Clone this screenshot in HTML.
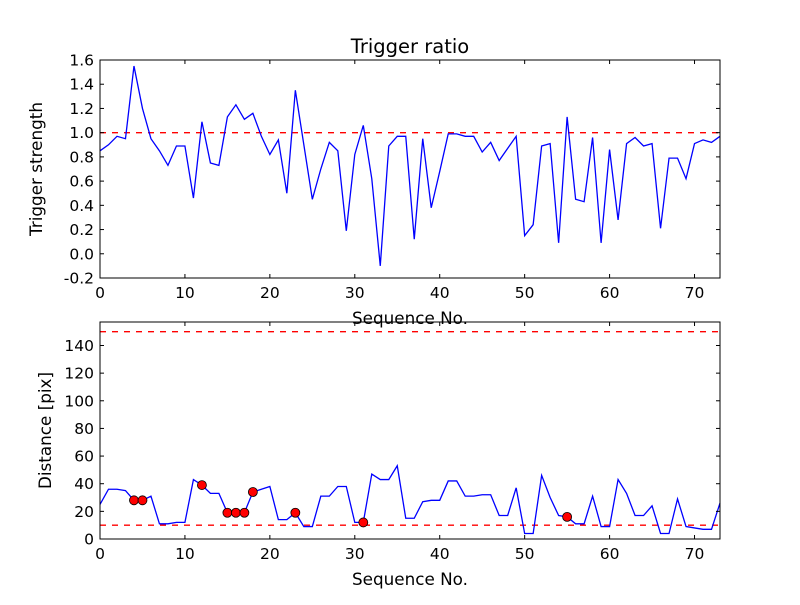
<!DOCTYPE html>
<html><head><meta charset="utf-8"><style>
body{margin:0;background:#fff;}
svg text{font-family:"DejaVu Sans","Liberation Sans",sans-serif;}
</style></head><body>
<svg id="c" width="800" height="600" xmlns="http://www.w3.org/2000/svg"></svg>
<script>
const topValues=[0.85,0.9,0.97,0.95,1.55,1.2,0.95,0.85,0.73,0.89,0.89,0.46,1.09,0.75,0.73,1.13,1.23,1.11,1.16,0.97,0.82,0.94,0.5,1.35,0.9,0.45,0.7,0.92,0.85,0.19,0.82,1.06,0.62,-0.1,0.89,0.97,0.97,0.12,0.95,0.38,0.68,0.99,0.99,0.97,0.97,0.84,0.92,0.77,0.87,0.97,0.15,0.24,0.89,0.91,0.09,1.13,0.45,0.43,0.96,0.09,0.86,0.28,0.91,0.96,0.89,0.91,0.21,0.79,0.79,0.62,0.91,0.94,0.92,0.97];
const distValues=[25,36,36,35,28,28,31,11,11,12,12,43,39,33,33,19,19,19,34,36,38,14,14,19,9,9,31,31,38,38,12,12,47,43,43,53,15,15,27,28,28,42,42,31,31,32,32,17,17,37,4,4,46,30,17,16,11,11,31,9,9,43,33,17,17,24,4,4,29,9,8,7,7,26];
const markedIdx=[4,5,12,15,16,17,18,23,31,55];
const xTicks=[0,10,20,30,40,50,60,70];
const topYTicks=[-0.2,0.0,0.2,0.4,0.6,0.8,1.0,1.2,1.4,1.6];
const botYTicks=[0,20,40,60,80,100,120,140];
const topThreshold=1.0;
const botThresholds=[10,150];

const svg=document.getElementById('c');
const NS='http://www.w3.org/2000/svg';
function mk(t,a,p){const e=document.createElementNS(NS,t);for(const k in a)e.setAttribute(k,a[k]);(p||svg).appendChild(e);return e;}
const L=100,R=720;
const xS=v=>L+(v-0)/73*(R-L);
const P1={t:60,b:278,min:-0.2,max:1.6};
const P2={t:322,b:539,min:0,max:157};
const yS=(P,v)=>P.b-(v-P.min)/(P.max-P.min)*(P.b-P.t);

function axes(P,yt,fmt,name,ylabel,title){
  const g=mk('g',{});
  
  
  xTicks.forEach(v=>{const x=xS(v);
    mk('line',{x1:x,x2:x,y1:P.b,y2:P.b-4,stroke:'#000'},g);
    mk('line',{x1:x,x2:x,y1:P.t,y2:P.t+4,stroke:'#000'},g);
    const t=mk('text',{x:x,y:P.b+20,'font-size':15.5,'text-anchor':'middle'},g);t.textContent=v;
    
    });
  yt.forEach(v=>{const y=yS(P,v);
    mk('line',{x1:L,x2:L+4,y1:y,y2:y,stroke:'#000'},g);
    mk('line',{x1:R,x2:R-4,y1:y,y2:y,stroke:'#000'},g);
    const t=mk('text',{x:L-6,y:y+5.5,'font-size':15.5,'text-anchor':'end'},g);t.textContent=fmt(v);
    
    });
  const xl=mk('text',{x:410,y:P.b+46,'font-size':16.8,'text-anchor':'middle'},g);xl.textContent='Sequence No.';
  
  
  const yl=mk('text',{x:0,y:0,'font-size':16.8,'text-anchor':'middle',transform:`translate(${P===P1?42:51},${(P.t+P.b)/2}) rotate(-90)`},g);yl.textContent=ylabel;
  
  
  if(title){const tt=mk('text',{x:410,y:53,'font-size':19.5,'text-anchor':'middle'},g);tt.textContent=title;
    
    }
}
function line(P,vals,name){
  const d=vals.map((v,i)=>(i?'L':'M')+xS(i).toFixed(2)+','+yS(P,v).toFixed(2)).join('');
  const p=mk('path',{d:d,fill:'none',stroke:'#0000ff','stroke-width':1.3});
  
  
}
function hline(P,v,name){
  const y=yS(P,v);
  const l=mk('line',{x1:L,x2:R,y1:y,y2:y,stroke:'#ff0000','stroke-width':1.3,'stroke-dasharray':'6,6'});
  
  
}
hline(P1,topThreshold,'threshold-line');
line(P1,topValues,'trigger-strength-line');
mk('rect',{x:L,y:P1.t,width:R-L,height:P1.b-P1.t,fill:'none',stroke:'#000'});
axes(P1,topYTicks,v=>v.toFixed(1),'top-axes','Trigger strength','Trigger ratio');
botThresholds.forEach(v=>hline(P2,v,'distance-threshold-line'));
line(P2,distValues,'distance-line');
markedIdx.forEach(i=>{const c=mk('circle',{cx:xS(i),cy:yS(P2,distValues[i]),r:4.5,fill:'#ff0000',stroke:'#000','stroke-width':0.8});
  
  });
mk('rect',{x:L,y:P2.t,width:R-L,height:P2.b-P2.t,fill:'none',stroke:'#000'});
axes(P2,botYTicks,v=>String(v),'bottom-axes','Distance [pix]',null);
</script>
</body></html>
